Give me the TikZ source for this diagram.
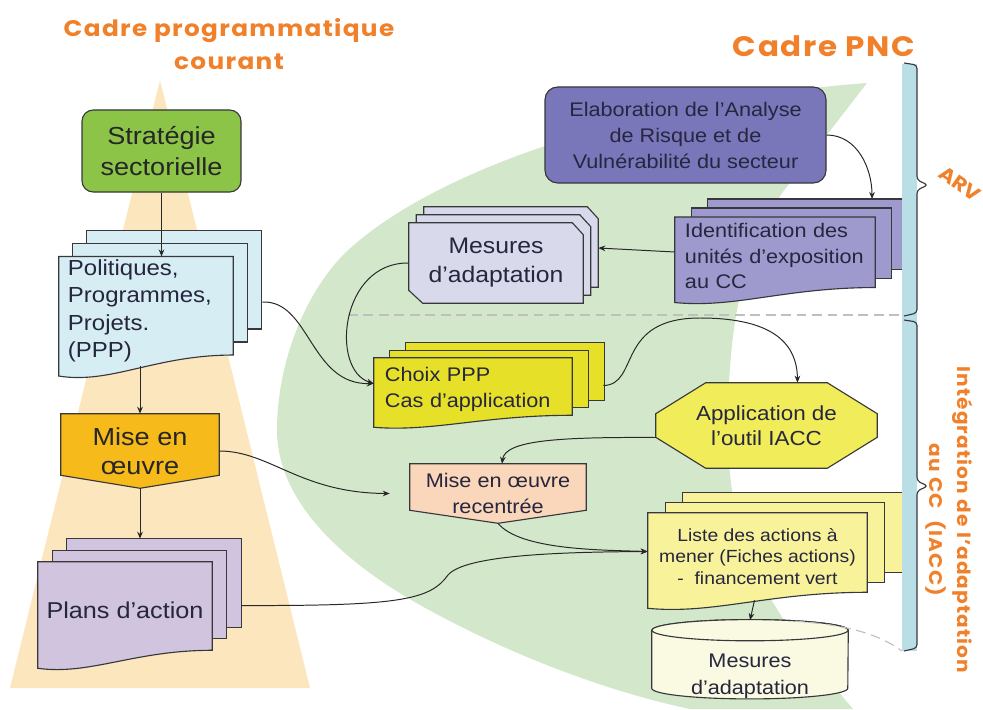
\documentclass[tikz,border=0pt]{standalone}
\usepackage{fontspec}
\setmainfont{Liberation Sans}[FakeStretch=1.1]
\newfontfamily\titlefont{Poppins}[FakeStretch=1.1,LetterSpace=6]
\newfontfamily\tagfont{Poppins}[FakeStretch=1.1]
\usetikzlibrary{calc,arrows.meta}

\definecolor{titleorange}{RGB}{241,128,42}
\definecolor{beigebg}{RGB}{251,230,189}
\definecolor{greenbg}{RGB}{211,231,203}
\definecolor{stratgreen}{RGB}{140,196,72}
\definecolor{pppblue}{RGB}{214,237,243}
\definecolor{miseorange}{RGB}{246,186,26}
\definecolor{planlilac}{RGB}{209,196,222}
\definecolor{elabblue}{RGB}{121,118,186}
\definecolor{identblue}{RGB}{158,154,206}
\definecolor{mesurelilac}{RGB}{217,217,236}
\definecolor{choixyellow}{RGB}{230,224,40}
\definecolor{appyellow}{RGB}{240,236,90}
\definecolor{recentpeach}{RGB}{250,215,186}
\definecolor{listeyellow}{RGB}{248,243,155}
\definecolor{cylcream}{RGB}{250,249,225}
\definecolor{barblue}{RGB}{185,222,229}
\definecolor{edgegray}{RGB}{55,55,60}
\definecolor{linegray}{RGB}{40,40,40}
\definecolor{inktext}{RGB}{38,38,62}

\pgfdeclarelayer{bg}
\pgfdeclarelayer{sheets}
\pgfsetlayers{bg,sheets,main}

\tikzset{
  px/.style 2 args={minimum width=#1*0.025cm, minimum height=#2*0.025cm},
  box/.style={inner sep=0pt, align=center, text=inktext},
  sheet/.style={draw=edgegray, line width=0.8pt},
  conn/.style={draw=linegray, line width=0.7pt, -{Stealth[length=5pt,width=4pt]}},
  frametitle/.style={text=titleorange, align=center},
  bracket/.style={draw=edgegray, line width=0.8pt, rounded corners=2.5pt},
  guide/.style={draw=gray!50, line width=0.8pt, dash pattern=on 7pt off 4pt},
}

% stacked sheets behind a document node: node, dx, dy, half wave, colour
\newcommand\docstack[5]{%
  \begin{pgfonlayer}{sheets}
    \foreach \k in {2,1}
      \draw[sheet, fill=#5] ([shift={(\k*#2,-\k*#3)}]#1.north west)
        rectangle ([shift={(\k*#2,-\k*#3-#4)}]#1.south east);
    \draw[sheet, fill=#5] (#1.north west) -- (#1.north east) -- ([shift={(0,-#4)}]#1.south east)
      .. controls ($(#1.south east)!0.45!(#1.south west)+(0,-#4)$)
      and ($(#1.south west)!0.3!(#1.south east)+(0,1.8*#4)$) .. ([shift={(0,#4)}]#1.south west) -- cycle;
  \end{pgfonlayer}
  \coordinate (#1-top) at ([shift={(2*#2,-2*#3)}]#1.north);
}
% arrow-shaped box pointing down: node, side drop, colour
\newcommand\pentashape[3]{%
  \begin{pgfonlayer}{sheets}
    \draw[sheet, fill=#3] (#1.north west) -- (#1.north east) -- ([shift={(0,-#2)}]#1.south east)
      -- (#1.south) -- ([shift={(0,-#2)}]#1.south west) -- cycle;
  \end{pgfonlayer}
}

\begin{document}
\begin{tikzpicture}[x=0.025cm, y=-0.025cm]
  \useasboundingbox (0,0) rectangle (983,709);

  % Background areas
  \begin{pgfonlayer}{bg}
    \fill[beigebg] (160,80) -- (310,688) -- (10,688) -- cycle;
    \fill[greenbg] (867,83) .. controls (640,100) and (430,170) .. (343,255)
      .. controls (300,300) and (277,370) .. (277,430)
      .. controls (277,500) and (340,560) .. (420,605)
      .. controls (500,650) and (600,690) .. (690,709) -- (853,709)
      .. controls (760,600) and (728,540) .. (728,430)
      .. controls (728,330) and (740,260) .. (782,193) -- cycle;
    \draw[guide] (348,315) -- (903,315);
  \end{pgfonlayer}

  % Titles
  \node[frametitle, font=\titlefont\bfseries\fontsize{16}{23.5}\selectfont] (cadrecourant) at (229,44) {Cadre programmatique\\courant};
  \node[frametitle, font=\titlefont\bfseries\fontsize{20}{24}\selectfont] (cadrepnc) at (824,46) {Cadre PNC};
  \node[frametitle, rotate=-35, font=\tagfont\bfseries\fontsize{14}{16}\selectfont] (arv) at (960,184) {ARV};
  \node[frametitle, rotate=-90, font=\titlefont\bfseries\fontsize{13}{20}\selectfont] (iacc) at (949,520) {Intégration de l’adaptation\\au CC~~(IACC)};

  % Left column: current framework
  \node[box, px={159}{82}, fill=stratgreen, draw=edgegray, line width=0.8pt, rounded corners=8pt,
        text=black!85, font=\fontsize{17.5}{21.5}\selectfont] (strat) at (161.5,151) {Stratégie\\sectorielle};
  \node[box, px={174}{108.5}, align=left, text width=3.9cm, font=\fontsize{15.5}{19.5}\selectfont] (ppp) at (146,311) {Politiques,\\Programmes,\\Projets.\\(PPP)};
  \docstack{ppp}{14}{13}{10.5}{pppblue}
  \node[box, px={158}{74}, text=black!85, font=\fontsize{17.5}{20.5}\selectfont] (mise) at (140,451) {Mise en\\œuvre};
  \pentashape{mise}{13}{miseorange}
  \node[box, px={174}{97}, font=\fontsize{16.3}{19}\selectfont] (plans) at (125,610.5) {Plans d’action};
  \docstack{plans}{14.5}{11.5}{9}{planlilac}

  % Right part: PNC framework
  \node[box, px={281}{96}, fill=elabblue, draw=edgegray, line width=0.8pt, rounded corners=9pt,
        font=\fontsize{14}{18.5}\selectfont] (elab) at (685.5,135) {Elaboration de l’Analyse\\de Risque et de\\Vulnérabilité du secteur};
  \node[box, px={200}{77.5}, align=left, text width=4.5cm, font=\fontsize{14}{18}\selectfont] (ident) at (775,256) {Identification des\\unités d’exposition\\au CC};
  \docstack{ident}{16.5}{9}{7.5}{identblue}
  \node[box, px={174}{80}, font=\fontsize{16}{20.5}\selectfont] (mesures) at (496,263) {Mesures\\d’adaptation};
  \begin{pgfonlayer}{sheets}
    \foreach \k in {2,1,0}
      \draw[sheet, fill=mesurelilac, transform canvas={shift={(\k*7.5,-\k*8)}}]
        (mesures.north west) -- ([shift={(-11,0)}]mesures.north east) -- ([shift={(0,12)}]mesures.north east)
        -- (mesures.south east) -- ([shift={(14,0)}]mesures.south west) -- ([shift={(0,-13)}]mesures.south west) -- cycle;
  \end{pgfonlayer}
  \node[box, px={198}{63}, align=left, text width=4.4cm, font=\fontsize{14}{18}\selectfont] (choix) at (473,389.5) {Choix PPP\\Cas d’application};
  \docstack{choix}{16}{7.5}{6}{choixyellow}
  \node[box, px={221}{85}, font=\fontsize{14.5}{18}\selectfont] (app) at (766.5,425.5) {Application de\\l’outil IACC};
  \begin{pgfonlayer}{sheets}
    \draw[sheet, fill=appyellow] ([shift={(50,0)}]app.north west) -- ([shift={(-50,0)}]app.north east)
      -- ([shift={(0,31)}]app.north east) -- ([shift={(0,-31)}]app.south east) -- ([shift={(-50,0)}]app.south east)
      -- ([shift={(50,0)}]app.south west) -- ([shift={(0,-31)}]app.south west) -- ([shift={(0,31)}]app.north west) -- cycle;
  \end{pgfonlayer}
  \node[box, px={176}{59}, font=\fontsize{14}{18}\selectfont] (recentree) at (498,493.5) {Mise en œuvre\\recentrée};
  \pentashape{recentree}{13}{recentpeach}
  \node[box, px={219}{87}, font=\fontsize{12.5}{15.5}\selectfont] (liste) at (757.5,556.5) {Liste des actions à\\mener (Fiches actions)\\-~~financement vert};
  \docstack{liste}{17.5}{10}{8}{listeyellow}
  \node[box, px={196}{42}, font=\fontsize{14}{19.5}\selectfont] (cyl) at (750,676) {Mesures\\d’adaptation};
  \begin{pgfonlayer}{sheets}
    \draw[sheet, fill=cylcream] ([shift={(0,-23)}]cyl.north west) -- ([shift={(0,-10.5)}]cyl.south west)
      arc[start angle=180, end angle=360, x radius=2.45cm, y radius=0.265cm]
      -- ([shift={(0,-23)}]cyl.north east) arc[start angle=0, end angle=180, x radius=2.45cm, y radius=0.265cm] -- cycle;
    \draw[sheet, fill=cylcream] ([shift={(0,-23)}]cyl.north) ellipse[x radius=2.45cm, y radius=0.265cm];
    % side bar with its two braces
    \fill[barblue] (902,64) rectangle (917,651);
    \draw[bracket] (904,63) -- (917,65) -- (917,180) -- (928,185) -- (917,190) -- (917,313) -- (904,316);
    \draw[bracket] (904,320) -- (917,322) -- (917,481) -- (928,486) -- (917,491) -- (917,648) -- (904,651);
  \end{pgfonlayer}
  \coordinate (barfoot) at (902,651);

  % Connectors, left column
  \draw[conn] (strat.south) -- (strat.south |- ppp.north);
  \draw[conn] (mise.north |- ppp.south) -- (mise.north);
  \draw[conn] (mise.south) -- (mise.south |- plans-top);

  % Connectors, right part
  \draw[conn] (elab.east) to[out=0,in=90] ([shift={(64,0)}]ident-top);
  \draw[conn] ([shift={(0,-4)}]ident.west) -- ([shift={(15,-15)}]mesures.east);
  \draw[conn] (mesures.west) .. controls (340,262) and (330,370) .. ([shift={(0,-6)}]choix.west);
  \draw[conn] ([shift={(29,-9)}]ppp.east) .. controls (310,300) and (310,385) .. ([shift={(0,-6)}]choix.west);
  \draw[conn] ([shift={(31,-4)}]choix.east) .. controls (640,385) and (615,318) .. (700,318)
    .. controls (775,318) and (797,345) .. ([shift={(31,0)}]app.north);
  \draw[conn] ([shift={(0,12)}]app.west) .. controls (560,437) and (505,440) .. ([shift={(4,0)}]recentree.north);
  \draw[conn] (mise.east) .. controls (270,451) and (300,493) .. ([shift={(-20,0)}]recentree.west);
  \draw[conn] (recentree.south) .. controls (520,550) and (600,550) .. ([shift={(0,-5)}]liste.west);
  \draw[conn] ([shift={(29,-5)}]plans.east) .. controls (400,606) and (430,600) .. (448,575)
    .. controls (465,555) and (560,552) .. ([shift={(0,-5)}]liste.west);
  \draw[conn] ([shift={(-3,0)}]liste.south) -- ([shift={(0,-33)}]cyl.north);
  \draw[guide] ([shift={(45,-32)}]cyl.north) .. controls (850,625) and (880,635) .. (barfoot);
\end{tikzpicture}
\end{document}
